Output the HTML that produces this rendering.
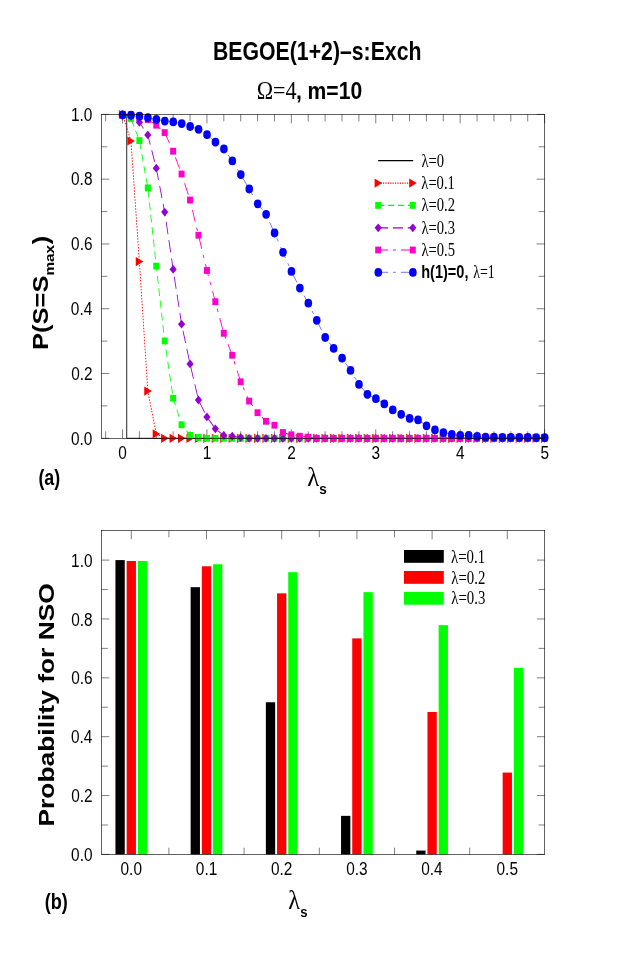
<!DOCTYPE html>
<html><head><meta charset="utf-8"><title>BEGOE(1+2)-s:Exch</title>
<style>
html,body{margin:0;padding:0;background:#fff;}
body{width:623px;height:969px;overflow:hidden;font-family:"Liberation Sans",sans-serif;}
svg{display:block;will-change:transform;}
</style></head><body>
<svg width="623" height="969" viewBox="0 0 623 969">
<rect width="623" height="969" fill="#fff"/>
<g id="a-ticks">
<line x1="105.62" y1="438.30" x2="105.62" y2="431.30" stroke="#000" stroke-width="0.5"/>
<line x1="105.62" y1="114.40" x2="105.62" y2="121.40" stroke="#000" stroke-width="0.5"/>
<line x1="122.50" y1="438.30" x2="122.50" y2="429.30" stroke="#000" stroke-width="0.5"/>
<line x1="122.50" y1="114.40" x2="122.50" y2="123.40" stroke="#000" stroke-width="0.5"/>
<line x1="139.38" y1="438.30" x2="139.38" y2="431.30" stroke="#000" stroke-width="0.5"/>
<line x1="139.38" y1="114.40" x2="139.38" y2="121.40" stroke="#000" stroke-width="0.5"/>
<line x1="156.27" y1="438.30" x2="156.27" y2="431.30" stroke="#000" stroke-width="0.5"/>
<line x1="156.27" y1="114.40" x2="156.27" y2="121.40" stroke="#000" stroke-width="0.5"/>
<line x1="173.15" y1="438.30" x2="173.15" y2="431.30" stroke="#000" stroke-width="0.5"/>
<line x1="173.15" y1="114.40" x2="173.15" y2="121.40" stroke="#000" stroke-width="0.5"/>
<line x1="190.04" y1="438.30" x2="190.04" y2="431.30" stroke="#000" stroke-width="0.5"/>
<line x1="190.04" y1="114.40" x2="190.04" y2="121.40" stroke="#000" stroke-width="0.5"/>
<line x1="206.92" y1="438.30" x2="206.92" y2="429.30" stroke="#000" stroke-width="0.5"/>
<line x1="206.92" y1="114.40" x2="206.92" y2="123.40" stroke="#000" stroke-width="0.5"/>
<line x1="223.80" y1="438.30" x2="223.80" y2="431.30" stroke="#000" stroke-width="0.5"/>
<line x1="223.80" y1="114.40" x2="223.80" y2="121.40" stroke="#000" stroke-width="0.5"/>
<line x1="240.69" y1="438.30" x2="240.69" y2="431.30" stroke="#000" stroke-width="0.5"/>
<line x1="240.69" y1="114.40" x2="240.69" y2="121.40" stroke="#000" stroke-width="0.5"/>
<line x1="257.57" y1="438.30" x2="257.57" y2="431.30" stroke="#000" stroke-width="0.5"/>
<line x1="257.57" y1="114.40" x2="257.57" y2="121.40" stroke="#000" stroke-width="0.5"/>
<line x1="274.46" y1="438.30" x2="274.46" y2="431.30" stroke="#000" stroke-width="0.5"/>
<line x1="274.46" y1="114.40" x2="274.46" y2="121.40" stroke="#000" stroke-width="0.5"/>
<line x1="291.34" y1="438.30" x2="291.34" y2="429.30" stroke="#000" stroke-width="0.5"/>
<line x1="291.34" y1="114.40" x2="291.34" y2="123.40" stroke="#000" stroke-width="0.5"/>
<line x1="308.22" y1="438.30" x2="308.22" y2="431.30" stroke="#000" stroke-width="0.5"/>
<line x1="308.22" y1="114.40" x2="308.22" y2="121.40" stroke="#000" stroke-width="0.5"/>
<line x1="325.11" y1="438.30" x2="325.11" y2="431.30" stroke="#000" stroke-width="0.5"/>
<line x1="325.11" y1="114.40" x2="325.11" y2="121.40" stroke="#000" stroke-width="0.5"/>
<line x1="341.99" y1="438.30" x2="341.99" y2="431.30" stroke="#000" stroke-width="0.5"/>
<line x1="341.99" y1="114.40" x2="341.99" y2="121.40" stroke="#000" stroke-width="0.5"/>
<line x1="358.88" y1="438.30" x2="358.88" y2="431.30" stroke="#000" stroke-width="0.5"/>
<line x1="358.88" y1="114.40" x2="358.88" y2="121.40" stroke="#000" stroke-width="0.5"/>
<line x1="375.76" y1="438.30" x2="375.76" y2="429.30" stroke="#000" stroke-width="0.5"/>
<line x1="375.76" y1="114.40" x2="375.76" y2="123.40" stroke="#000" stroke-width="0.5"/>
<line x1="392.64" y1="438.30" x2="392.64" y2="431.30" stroke="#000" stroke-width="0.5"/>
<line x1="392.64" y1="114.40" x2="392.64" y2="121.40" stroke="#000" stroke-width="0.5"/>
<line x1="409.53" y1="438.30" x2="409.53" y2="431.30" stroke="#000" stroke-width="0.5"/>
<line x1="409.53" y1="114.40" x2="409.53" y2="121.40" stroke="#000" stroke-width="0.5"/>
<line x1="426.41" y1="438.30" x2="426.41" y2="431.30" stroke="#000" stroke-width="0.5"/>
<line x1="426.41" y1="114.40" x2="426.41" y2="121.40" stroke="#000" stroke-width="0.5"/>
<line x1="443.30" y1="438.30" x2="443.30" y2="431.30" stroke="#000" stroke-width="0.5"/>
<line x1="443.30" y1="114.40" x2="443.30" y2="121.40" stroke="#000" stroke-width="0.5"/>
<line x1="460.18" y1="438.30" x2="460.18" y2="429.30" stroke="#000" stroke-width="0.5"/>
<line x1="460.18" y1="114.40" x2="460.18" y2="123.40" stroke="#000" stroke-width="0.5"/>
<line x1="477.06" y1="438.30" x2="477.06" y2="431.30" stroke="#000" stroke-width="0.5"/>
<line x1="477.06" y1="114.40" x2="477.06" y2="121.40" stroke="#000" stroke-width="0.5"/>
<line x1="493.95" y1="438.30" x2="493.95" y2="431.30" stroke="#000" stroke-width="0.5"/>
<line x1="493.95" y1="114.40" x2="493.95" y2="121.40" stroke="#000" stroke-width="0.5"/>
<line x1="510.83" y1="438.30" x2="510.83" y2="431.30" stroke="#000" stroke-width="0.5"/>
<line x1="510.83" y1="114.40" x2="510.83" y2="121.40" stroke="#000" stroke-width="0.5"/>
<line x1="527.72" y1="438.30" x2="527.72" y2="431.30" stroke="#000" stroke-width="0.5"/>
<line x1="527.72" y1="114.40" x2="527.72" y2="121.40" stroke="#000" stroke-width="0.5"/>
<line x1="544.60" y1="438.30" x2="544.60" y2="429.30" stroke="#000" stroke-width="0.5"/>
<line x1="544.60" y1="114.40" x2="544.60" y2="123.40" stroke="#000" stroke-width="0.5"/>
<line x1="101.30" y1="438.30" x2="109.30" y2="438.30" stroke="#000" stroke-width="0.5"/>
<line x1="544.60" y1="438.30" x2="536.60" y2="438.30" stroke="#000" stroke-width="0.5"/>
<line x1="101.30" y1="405.91" x2="107.30" y2="405.91" stroke="#000" stroke-width="0.5"/>
<line x1="544.60" y1="405.91" x2="538.60" y2="405.91" stroke="#000" stroke-width="0.5"/>
<line x1="101.30" y1="373.52" x2="109.30" y2="373.52" stroke="#000" stroke-width="0.5"/>
<line x1="544.60" y1="373.52" x2="536.60" y2="373.52" stroke="#000" stroke-width="0.5"/>
<line x1="101.30" y1="341.13" x2="107.30" y2="341.13" stroke="#000" stroke-width="0.5"/>
<line x1="544.60" y1="341.13" x2="538.60" y2="341.13" stroke="#000" stroke-width="0.5"/>
<line x1="101.30" y1="308.74" x2="109.30" y2="308.74" stroke="#000" stroke-width="0.5"/>
<line x1="544.60" y1="308.74" x2="536.60" y2="308.74" stroke="#000" stroke-width="0.5"/>
<line x1="101.30" y1="276.35" x2="107.30" y2="276.35" stroke="#000" stroke-width="0.5"/>
<line x1="544.60" y1="276.35" x2="538.60" y2="276.35" stroke="#000" stroke-width="0.5"/>
<line x1="101.30" y1="243.96" x2="109.30" y2="243.96" stroke="#000" stroke-width="0.5"/>
<line x1="544.60" y1="243.96" x2="536.60" y2="243.96" stroke="#000" stroke-width="0.5"/>
<line x1="101.30" y1="211.57" x2="107.30" y2="211.57" stroke="#000" stroke-width="0.5"/>
<line x1="544.60" y1="211.57" x2="538.60" y2="211.57" stroke="#000" stroke-width="0.5"/>
<line x1="101.30" y1="179.18" x2="109.30" y2="179.18" stroke="#000" stroke-width="0.5"/>
<line x1="544.60" y1="179.18" x2="536.60" y2="179.18" stroke="#000" stroke-width="0.5"/>
<line x1="101.30" y1="146.79" x2="107.30" y2="146.79" stroke="#000" stroke-width="0.5"/>
<line x1="544.60" y1="146.79" x2="538.60" y2="146.79" stroke="#000" stroke-width="0.5"/>
<line x1="101.30" y1="114.40" x2="109.30" y2="114.40" stroke="#000" stroke-width="0.5"/>
<line x1="544.60" y1="114.40" x2="536.60" y2="114.40" stroke="#000" stroke-width="0.5"/>
</g>
<g id="a-data">
<polyline transform="scale(0.8,1)" points="153.12,114.40 158.40,114.40 158.40,438.30 680.75,438.30" fill="none" stroke="#000" stroke-width="0.95"/>
<polyline transform="scale(0.8,1)" points="153.12,114.50 163.68,141.00 174.23,261.60 184.78,391.10 195.33,433.90 205.89,438.30 216.44,438.30 226.99,438.30 237.54,438.30 248.10,438.30 258.65,438.30 269.20,438.30 279.75,438.30 290.31,438.30 300.86,438.30 311.41,438.30 321.96,438.30 332.52,438.30 343.07,438.30 353.62,438.30 364.18,438.30 374.73,438.30 385.28,438.30 395.83,438.30 406.39,438.30 416.94,438.30 427.49,438.30 438.04,438.30 448.60,438.30 459.15,438.30 469.70,438.30 480.25,438.30 490.81,438.30 501.36,438.30 511.91,438.30 522.46,438.30 533.01,438.30 543.57,438.30 554.12,438.30 564.67,438.30 575.23,438.30 585.78,438.30 596.33,438.30 606.88,438.30 617.44,438.30 627.99,438.30 638.54,438.30 649.09,438.30 659.65,438.30 670.20,438.30 680.75,438.30" fill="none" stroke="#ff0000" stroke-width="1.1" stroke-dasharray="1.50 1.50"/>
<path d="M118.90,109.90 L126.50,114.50 L118.90,119.10 Z" fill="#ff0000"/>
<path d="M127.34,136.40 L134.94,141.00 L127.34,145.60 Z" fill="#ff0000"/>
<path d="M135.78,257.00 L143.38,261.60 L135.78,266.20 Z" fill="#ff0000"/>
<path d="M144.23,386.50 L151.83,391.10 L144.23,395.70 Z" fill="#ff0000"/>
<path d="M152.67,429.30 L160.27,433.90 L152.67,438.50 Z" fill="#ff0000"/>
<path d="M161.11,433.70 L168.71,438.30 L161.11,442.90 Z" fill="#ff0000"/>
<path d="M169.55,433.70 L177.15,438.30 L169.55,442.90 Z" fill="#ff0000"/>
<path d="M177.99,433.70 L185.59,438.30 L177.99,442.90 Z" fill="#ff0000"/>
<path d="M186.44,433.70 L194.04,438.30 L186.44,442.90 Z" fill="#ff0000"/>
<path d="M194.88,433.70 L202.48,438.30 L194.88,442.90 Z" fill="#ff0000"/>
<path d="M203.32,433.70 L210.92,438.30 L203.32,442.90 Z" fill="#ff0000"/>
<path d="M211.76,433.70 L219.36,438.30 L211.76,442.90 Z" fill="#ff0000"/>
<path d="M220.20,433.70 L227.80,438.30 L220.20,442.90 Z" fill="#ff0000"/>
<path d="M228.65,433.70 L236.25,438.30 L228.65,442.90 Z" fill="#ff0000"/>
<path d="M237.09,433.70 L244.69,438.30 L237.09,442.90 Z" fill="#ff0000"/>
<path d="M245.53,433.70 L253.13,438.30 L245.53,442.90 Z" fill="#ff0000"/>
<path d="M253.97,433.70 L261.57,438.30 L253.97,442.90 Z" fill="#ff0000"/>
<path d="M262.41,433.70 L270.01,438.30 L262.41,442.90 Z" fill="#ff0000"/>
<path d="M270.86,433.70 L278.46,438.30 L270.86,442.90 Z" fill="#ff0000"/>
<path d="M279.30,433.70 L286.90,438.30 L279.30,442.90 Z" fill="#ff0000"/>
<path d="M287.74,433.70 L295.34,438.30 L287.74,442.90 Z" fill="#ff0000"/>
<path d="M296.18,433.70 L303.78,438.30 L296.18,442.90 Z" fill="#ff0000"/>
<path d="M304.62,433.70 L312.22,438.30 L304.62,442.90 Z" fill="#ff0000"/>
<path d="M313.07,433.70 L320.67,438.30 L313.07,442.90 Z" fill="#ff0000"/>
<path d="M321.51,433.70 L329.11,438.30 L321.51,442.90 Z" fill="#ff0000"/>
<path d="M329.95,433.70 L337.55,438.30 L329.95,442.90 Z" fill="#ff0000"/>
<path d="M338.39,433.70 L345.99,438.30 L338.39,442.90 Z" fill="#ff0000"/>
<path d="M346.83,433.70 L354.43,438.30 L346.83,442.90 Z" fill="#ff0000"/>
<path d="M355.28,433.70 L362.88,438.30 L355.28,442.90 Z" fill="#ff0000"/>
<path d="M363.72,433.70 L371.32,438.30 L363.72,442.90 Z" fill="#ff0000"/>
<path d="M372.16,433.70 L379.76,438.30 L372.16,442.90 Z" fill="#ff0000"/>
<path d="M380.60,433.70 L388.20,438.30 L380.60,442.90 Z" fill="#ff0000"/>
<path d="M389.04,433.70 L396.64,438.30 L389.04,442.90 Z" fill="#ff0000"/>
<path d="M397.49,433.70 L405.09,438.30 L397.49,442.90 Z" fill="#ff0000"/>
<path d="M405.93,433.70 L413.53,438.30 L405.93,442.90 Z" fill="#ff0000"/>
<path d="M414.37,433.70 L421.97,438.30 L414.37,442.90 Z" fill="#ff0000"/>
<path d="M422.81,433.70 L430.41,438.30 L422.81,442.90 Z" fill="#ff0000"/>
<path d="M431.25,433.70 L438.85,438.30 L431.25,442.90 Z" fill="#ff0000"/>
<path d="M439.70,433.70 L447.30,438.30 L439.70,442.90 Z" fill="#ff0000"/>
<path d="M448.14,433.70 L455.74,438.30 L448.14,442.90 Z" fill="#ff0000"/>
<path d="M456.58,433.70 L464.18,438.30 L456.58,442.90 Z" fill="#ff0000"/>
<path d="M465.02,433.70 L472.62,438.30 L465.02,442.90 Z" fill="#ff0000"/>
<path d="M473.46,433.70 L481.06,438.30 L473.46,442.90 Z" fill="#ff0000"/>
<path d="M481.91,433.70 L489.51,438.30 L481.91,442.90 Z" fill="#ff0000"/>
<path d="M490.35,433.70 L497.95,438.30 L490.35,442.90 Z" fill="#ff0000"/>
<path d="M498.79,433.70 L506.39,438.30 L498.79,442.90 Z" fill="#ff0000"/>
<path d="M507.23,433.70 L514.83,438.30 L507.23,442.90 Z" fill="#ff0000"/>
<path d="M515.67,433.70 L523.27,438.30 L515.67,442.90 Z" fill="#ff0000"/>
<path d="M524.12,433.70 L531.72,438.30 L524.12,442.90 Z" fill="#ff0000"/>
<path d="M532.56,433.70 L540.16,438.30 L532.56,442.90 Z" fill="#ff0000"/>
<path d="M541.00,433.70 L548.60,438.30 L541.00,442.90 Z" fill="#ff0000"/>
<polyline transform="scale(0.8,1)" points="153.12,114.50 163.68,118.50 174.23,140.60 184.78,187.90 195.33,266.10 205.89,341.00 216.44,398.20 226.99,424.80 237.54,435.40 248.10,437.50 258.65,438.30 269.20,438.30 279.75,438.30 290.31,438.30 300.86,438.30 311.41,438.30 321.96,438.30 332.52,438.30 343.07,438.30 353.62,438.30 364.18,438.30 374.73,438.30 385.28,438.30 395.83,438.30 406.39,438.30 416.94,438.30 427.49,438.30 438.04,438.30 448.60,438.30 459.15,438.30 469.70,438.30 480.25,438.30 490.81,438.30 501.36,438.30 511.91,438.30 522.46,438.30 533.01,438.30 543.57,438.30 554.12,438.30 564.67,438.30 575.23,438.30 585.78,438.30 596.33,438.30 606.88,438.30 617.44,438.30 627.99,438.30 638.54,438.30 649.09,438.30 659.65,438.30 670.20,438.30 680.75,438.30" fill="none" stroke="#00ff00" stroke-width="1.05" stroke-dasharray="7.75 4.62"/>
<rect x="119.50" y="111.10" width="6.0" height="6.8" fill="#00ff00"/>
<rect x="127.94" y="115.10" width="6.0" height="6.8" fill="#00ff00"/>
<rect x="136.38" y="137.20" width="6.0" height="6.8" fill="#00ff00"/>
<rect x="144.83" y="184.50" width="6.0" height="6.8" fill="#00ff00"/>
<rect x="153.27" y="262.70" width="6.0" height="6.8" fill="#00ff00"/>
<rect x="161.71" y="337.60" width="6.0" height="6.8" fill="#00ff00"/>
<rect x="170.15" y="394.80" width="6.0" height="6.8" fill="#00ff00"/>
<rect x="178.59" y="421.40" width="6.0" height="6.8" fill="#00ff00"/>
<rect x="187.04" y="432.00" width="6.0" height="6.8" fill="#00ff00"/>
<rect x="195.48" y="434.10" width="6.0" height="6.8" fill="#00ff00"/>
<rect x="203.92" y="434.90" width="6.0" height="6.8" fill="#00ff00"/>
<rect x="212.36" y="434.90" width="6.0" height="6.8" fill="#00ff00"/>
<rect x="220.80" y="434.90" width="6.0" height="6.8" fill="#00ff00"/>
<rect x="229.25" y="434.90" width="6.0" height="6.8" fill="#00ff00"/>
<rect x="237.69" y="434.90" width="6.0" height="6.8" fill="#00ff00"/>
<rect x="246.13" y="434.90" width="6.0" height="6.8" fill="#00ff00"/>
<rect x="254.57" y="434.90" width="6.0" height="6.8" fill="#00ff00"/>
<rect x="263.01" y="434.90" width="6.0" height="6.8" fill="#00ff00"/>
<rect x="271.46" y="434.90" width="6.0" height="6.8" fill="#00ff00"/>
<rect x="279.90" y="434.90" width="6.0" height="6.8" fill="#00ff00"/>
<rect x="288.34" y="434.90" width="6.0" height="6.8" fill="#00ff00"/>
<rect x="296.78" y="434.90" width="6.0" height="6.8" fill="#00ff00"/>
<rect x="305.22" y="434.90" width="6.0" height="6.8" fill="#00ff00"/>
<rect x="313.67" y="434.90" width="6.0" height="6.8" fill="#00ff00"/>
<rect x="322.11" y="434.90" width="6.0" height="6.8" fill="#00ff00"/>
<rect x="330.55" y="434.90" width="6.0" height="6.8" fill="#00ff00"/>
<rect x="338.99" y="434.90" width="6.0" height="6.8" fill="#00ff00"/>
<rect x="347.43" y="434.90" width="6.0" height="6.8" fill="#00ff00"/>
<rect x="355.88" y="434.90" width="6.0" height="6.8" fill="#00ff00"/>
<rect x="364.32" y="434.90" width="6.0" height="6.8" fill="#00ff00"/>
<rect x="372.76" y="434.90" width="6.0" height="6.8" fill="#00ff00"/>
<rect x="381.20" y="434.90" width="6.0" height="6.8" fill="#00ff00"/>
<rect x="389.64" y="434.90" width="6.0" height="6.8" fill="#00ff00"/>
<rect x="398.09" y="434.90" width="6.0" height="6.8" fill="#00ff00"/>
<rect x="406.53" y="434.90" width="6.0" height="6.8" fill="#00ff00"/>
<rect x="414.97" y="434.90" width="6.0" height="6.8" fill="#00ff00"/>
<rect x="423.41" y="434.90" width="6.0" height="6.8" fill="#00ff00"/>
<rect x="431.85" y="434.90" width="6.0" height="6.8" fill="#00ff00"/>
<rect x="440.30" y="434.90" width="6.0" height="6.8" fill="#00ff00"/>
<rect x="448.74" y="434.90" width="6.0" height="6.8" fill="#00ff00"/>
<rect x="457.18" y="434.90" width="6.0" height="6.8" fill="#00ff00"/>
<rect x="465.62" y="434.90" width="6.0" height="6.8" fill="#00ff00"/>
<rect x="474.06" y="434.90" width="6.0" height="6.8" fill="#00ff00"/>
<rect x="482.51" y="434.90" width="6.0" height="6.8" fill="#00ff00"/>
<rect x="490.95" y="434.90" width="6.0" height="6.8" fill="#00ff00"/>
<rect x="499.39" y="434.90" width="6.0" height="6.8" fill="#00ff00"/>
<rect x="507.83" y="434.90" width="6.0" height="6.8" fill="#00ff00"/>
<rect x="516.27" y="434.90" width="6.0" height="6.8" fill="#00ff00"/>
<rect x="524.72" y="434.90" width="6.0" height="6.8" fill="#00ff00"/>
<rect x="533.16" y="434.90" width="6.0" height="6.8" fill="#00ff00"/>
<rect x="541.60" y="434.90" width="6.0" height="6.8" fill="#00ff00"/>
<polyline transform="scale(0.8,1)" points="153.12,114.50 163.68,116.00 174.23,122.30 184.78,134.90 195.33,168.20 205.89,212.10 216.44,269.30 226.99,324.20 237.54,363.90 248.10,400.00 258.65,416.90 269.20,428.80 279.75,435.40 290.31,436.20 300.86,437.50 311.41,438.30 321.96,438.30 332.52,438.30 343.07,438.30 353.62,438.30 364.18,438.30 374.73,438.30 385.28,438.30 395.83,438.30 406.39,438.30 416.94,438.30 427.49,438.30 438.04,438.30 448.60,438.30 459.15,438.30 469.70,438.30 480.25,438.30 490.81,438.30 501.36,438.30 511.91,438.30 522.46,438.30 533.01,438.30 543.57,438.30 554.12,438.30 564.67,438.30 575.23,438.30 585.78,438.30 596.33,438.30 606.88,438.30 617.44,438.30 627.99,438.30 638.54,438.30 649.09,438.30 659.65,438.30 670.20,438.30 680.75,438.30" fill="none" stroke="#9400d3" stroke-width="1.05" stroke-dasharray="12.50 6.00"/>
<path d="M122.50,110.10 L126.10,114.50 L122.50,118.90 L118.90,114.50 Z" fill="#9400d3"/>
<path d="M130.94,111.60 L134.54,116.00 L130.94,120.40 L127.34,116.00 Z" fill="#9400d3"/>
<path d="M139.38,117.90 L142.98,122.30 L139.38,126.70 L135.78,122.30 Z" fill="#9400d3"/>
<path d="M147.83,130.50 L151.43,134.90 L147.83,139.30 L144.23,134.90 Z" fill="#9400d3"/>
<path d="M156.27,163.80 L159.87,168.20 L156.27,172.60 L152.67,168.20 Z" fill="#9400d3"/>
<path d="M164.71,207.70 L168.31,212.10 L164.71,216.50 L161.11,212.10 Z" fill="#9400d3"/>
<path d="M173.15,264.90 L176.75,269.30 L173.15,273.70 L169.55,269.30 Z" fill="#9400d3"/>
<path d="M181.59,319.80 L185.19,324.20 L181.59,328.60 L177.99,324.20 Z" fill="#9400d3"/>
<path d="M190.04,359.50 L193.64,363.90 L190.04,368.30 L186.44,363.90 Z" fill="#9400d3"/>
<path d="M198.48,395.60 L202.08,400.00 L198.48,404.40 L194.88,400.00 Z" fill="#9400d3"/>
<path d="M206.92,412.50 L210.52,416.90 L206.92,421.30 L203.32,416.90 Z" fill="#9400d3"/>
<path d="M215.36,424.40 L218.96,428.80 L215.36,433.20 L211.76,428.80 Z" fill="#9400d3"/>
<path d="M223.80,431.00 L227.40,435.40 L223.80,439.80 L220.20,435.40 Z" fill="#9400d3"/>
<path d="M232.25,431.80 L235.85,436.20 L232.25,440.60 L228.65,436.20 Z" fill="#9400d3"/>
<path d="M240.69,433.10 L244.29,437.50 L240.69,441.90 L237.09,437.50 Z" fill="#9400d3"/>
<path d="M249.13,433.90 L252.73,438.30 L249.13,442.70 L245.53,438.30 Z" fill="#9400d3"/>
<path d="M257.57,433.90 L261.17,438.30 L257.57,442.70 L253.97,438.30 Z" fill="#9400d3"/>
<path d="M266.01,433.90 L269.61,438.30 L266.01,442.70 L262.41,438.30 Z" fill="#9400d3"/>
<path d="M274.46,433.90 L278.06,438.30 L274.46,442.70 L270.86,438.30 Z" fill="#9400d3"/>
<path d="M282.90,433.90 L286.50,438.30 L282.90,442.70 L279.30,438.30 Z" fill="#9400d3"/>
<path d="M291.34,433.90 L294.94,438.30 L291.34,442.70 L287.74,438.30 Z" fill="#9400d3"/>
<path d="M299.78,433.90 L303.38,438.30 L299.78,442.70 L296.18,438.30 Z" fill="#9400d3"/>
<path d="M308.22,433.90 L311.82,438.30 L308.22,442.70 L304.62,438.30 Z" fill="#9400d3"/>
<path d="M316.67,433.90 L320.27,438.30 L316.67,442.70 L313.07,438.30 Z" fill="#9400d3"/>
<path d="M325.11,433.90 L328.71,438.30 L325.11,442.70 L321.51,438.30 Z" fill="#9400d3"/>
<path d="M333.55,433.90 L337.15,438.30 L333.55,442.70 L329.95,438.30 Z" fill="#9400d3"/>
<path d="M341.99,433.90 L345.59,438.30 L341.99,442.70 L338.39,438.30 Z" fill="#9400d3"/>
<path d="M350.43,433.90 L354.03,438.30 L350.43,442.70 L346.83,438.30 Z" fill="#9400d3"/>
<path d="M358.88,433.90 L362.48,438.30 L358.88,442.70 L355.28,438.30 Z" fill="#9400d3"/>
<path d="M367.32,433.90 L370.92,438.30 L367.32,442.70 L363.72,438.30 Z" fill="#9400d3"/>
<path d="M375.76,433.90 L379.36,438.30 L375.76,442.70 L372.16,438.30 Z" fill="#9400d3"/>
<path d="M384.20,433.90 L387.80,438.30 L384.20,442.70 L380.60,438.30 Z" fill="#9400d3"/>
<path d="M392.64,433.90 L396.24,438.30 L392.64,442.70 L389.04,438.30 Z" fill="#9400d3"/>
<path d="M401.09,433.90 L404.69,438.30 L401.09,442.70 L397.49,438.30 Z" fill="#9400d3"/>
<path d="M409.53,433.90 L413.13,438.30 L409.53,442.70 L405.93,438.30 Z" fill="#9400d3"/>
<path d="M417.97,433.90 L421.57,438.30 L417.97,442.70 L414.37,438.30 Z" fill="#9400d3"/>
<path d="M426.41,433.90 L430.01,438.30 L426.41,442.70 L422.81,438.30 Z" fill="#9400d3"/>
<path d="M434.85,433.90 L438.45,438.30 L434.85,442.70 L431.25,438.30 Z" fill="#9400d3"/>
<path d="M443.30,433.90 L446.90,438.30 L443.30,442.70 L439.70,438.30 Z" fill="#9400d3"/>
<path d="M451.74,433.90 L455.34,438.30 L451.74,442.70 L448.14,438.30 Z" fill="#9400d3"/>
<path d="M460.18,433.90 L463.78,438.30 L460.18,442.70 L456.58,438.30 Z" fill="#9400d3"/>
<path d="M468.62,433.90 L472.22,438.30 L468.62,442.70 L465.02,438.30 Z" fill="#9400d3"/>
<path d="M477.06,433.90 L480.66,438.30 L477.06,442.70 L473.46,438.30 Z" fill="#9400d3"/>
<path d="M485.51,433.90 L489.11,438.30 L485.51,442.70 L481.91,438.30 Z" fill="#9400d3"/>
<path d="M493.95,433.90 L497.55,438.30 L493.95,442.70 L490.35,438.30 Z" fill="#9400d3"/>
<path d="M502.39,433.90 L505.99,438.30 L502.39,442.70 L498.79,438.30 Z" fill="#9400d3"/>
<path d="M510.83,433.90 L514.43,438.30 L510.83,442.70 L507.23,438.30 Z" fill="#9400d3"/>
<path d="M519.27,433.90 L522.87,438.30 L519.27,442.70 L515.67,438.30 Z" fill="#9400d3"/>
<path d="M527.72,433.90 L531.32,438.30 L527.72,442.70 L524.12,438.30 Z" fill="#9400d3"/>
<path d="M536.16,433.90 L539.76,438.30 L536.16,442.70 L532.56,438.30 Z" fill="#9400d3"/>
<path d="M544.60,433.90 L548.20,438.30 L544.60,442.70 L541.00,438.30 Z" fill="#9400d3"/>
<polyline transform="scale(0.8,1)" points="153.12,114.50 163.68,115.00 174.23,116.60 184.78,119.60 195.33,125.20 205.89,132.60 216.44,151.20 226.99,174.00 237.54,200.00 248.10,235.20 258.65,270.50 269.20,301.70 279.75,333.30 290.31,355.30 300.86,381.80 311.41,401.10 321.96,412.70 332.52,421.30 343.07,425.20 353.62,432.50 364.18,434.80 374.73,436.20 385.28,437.10 395.83,438.30 406.39,438.30 416.94,438.30 427.49,438.30 438.04,438.30 448.60,438.30 459.15,438.30 469.70,438.30 480.25,438.30 490.81,438.30 501.36,438.30 511.91,438.30 522.46,438.30 533.01,438.30 543.57,438.30 554.12,438.30 564.67,438.30 575.23,438.30 585.78,438.30 596.33,438.30 606.88,438.30 617.44,438.30 627.99,438.30 638.54,438.30 649.09,438.30 659.65,438.30 670.20,438.30 680.75,438.30" fill="none" stroke="#ff00cc" stroke-width="1.05" stroke-dasharray="12.50 6.00 3.50 6.37"/>
<rect x="119.50" y="111.10" width="6.0" height="6.8" fill="#ff00cc"/>
<rect x="127.94" y="111.60" width="6.0" height="6.8" fill="#ff00cc"/>
<rect x="136.38" y="113.20" width="6.0" height="6.8" fill="#ff00cc"/>
<rect x="144.83" y="116.20" width="6.0" height="6.8" fill="#ff00cc"/>
<rect x="153.27" y="121.80" width="6.0" height="6.8" fill="#ff00cc"/>
<rect x="161.71" y="129.20" width="6.0" height="6.8" fill="#ff00cc"/>
<rect x="170.15" y="147.80" width="6.0" height="6.8" fill="#ff00cc"/>
<rect x="178.59" y="170.60" width="6.0" height="6.8" fill="#ff00cc"/>
<rect x="187.04" y="196.60" width="6.0" height="6.8" fill="#ff00cc"/>
<rect x="195.48" y="231.80" width="6.0" height="6.8" fill="#ff00cc"/>
<rect x="203.92" y="267.10" width="6.0" height="6.8" fill="#ff00cc"/>
<rect x="212.36" y="298.30" width="6.0" height="6.8" fill="#ff00cc"/>
<rect x="220.80" y="329.90" width="6.0" height="6.8" fill="#ff00cc"/>
<rect x="229.25" y="351.90" width="6.0" height="6.8" fill="#ff00cc"/>
<rect x="237.69" y="378.40" width="6.0" height="6.8" fill="#ff00cc"/>
<rect x="246.13" y="397.70" width="6.0" height="6.8" fill="#ff00cc"/>
<rect x="254.57" y="409.30" width="6.0" height="6.8" fill="#ff00cc"/>
<rect x="263.01" y="417.90" width="6.0" height="6.8" fill="#ff00cc"/>
<rect x="271.46" y="421.80" width="6.0" height="6.8" fill="#ff00cc"/>
<rect x="279.90" y="429.10" width="6.0" height="6.8" fill="#ff00cc"/>
<rect x="288.34" y="431.40" width="6.0" height="6.8" fill="#ff00cc"/>
<rect x="296.78" y="432.80" width="6.0" height="6.8" fill="#ff00cc"/>
<rect x="305.22" y="433.70" width="6.0" height="6.8" fill="#ff00cc"/>
<rect x="313.67" y="434.90" width="6.0" height="6.8" fill="#ff00cc"/>
<rect x="322.11" y="434.90" width="6.0" height="6.8" fill="#ff00cc"/>
<rect x="330.55" y="434.90" width="6.0" height="6.8" fill="#ff00cc"/>
<rect x="338.99" y="434.90" width="6.0" height="6.8" fill="#ff00cc"/>
<rect x="347.43" y="434.90" width="6.0" height="6.8" fill="#ff00cc"/>
<rect x="355.88" y="434.90" width="6.0" height="6.8" fill="#ff00cc"/>
<rect x="364.32" y="434.90" width="6.0" height="6.8" fill="#ff00cc"/>
<rect x="372.76" y="434.90" width="6.0" height="6.8" fill="#ff00cc"/>
<rect x="381.20" y="434.90" width="6.0" height="6.8" fill="#ff00cc"/>
<rect x="389.64" y="434.90" width="6.0" height="6.8" fill="#ff00cc"/>
<rect x="398.09" y="434.90" width="6.0" height="6.8" fill="#ff00cc"/>
<rect x="406.53" y="434.90" width="6.0" height="6.8" fill="#ff00cc"/>
<rect x="414.97" y="434.90" width="6.0" height="6.8" fill="#ff00cc"/>
<rect x="423.41" y="434.90" width="6.0" height="6.8" fill="#ff00cc"/>
<rect x="431.85" y="434.90" width="6.0" height="6.8" fill="#ff00cc"/>
<rect x="440.30" y="434.90" width="6.0" height="6.8" fill="#ff00cc"/>
<rect x="448.74" y="434.90" width="6.0" height="6.8" fill="#ff00cc"/>
<rect x="457.18" y="434.90" width="6.0" height="6.8" fill="#ff00cc"/>
<rect x="465.62" y="434.90" width="6.0" height="6.8" fill="#ff00cc"/>
<rect x="474.06" y="434.90" width="6.0" height="6.8" fill="#ff00cc"/>
<rect x="482.51" y="434.90" width="6.0" height="6.8" fill="#ff00cc"/>
<rect x="490.95" y="434.90" width="6.0" height="6.8" fill="#ff00cc"/>
<rect x="499.39" y="434.90" width="6.0" height="6.8" fill="#ff00cc"/>
<rect x="507.83" y="434.90" width="6.0" height="6.8" fill="#ff00cc"/>
<rect x="516.27" y="434.90" width="6.0" height="6.8" fill="#ff00cc"/>
<rect x="524.72" y="434.90" width="6.0" height="6.8" fill="#ff00cc"/>
<rect x="533.16" y="434.90" width="6.0" height="6.8" fill="#ff00cc"/>
<rect x="541.60" y="434.90" width="6.0" height="6.8" fill="#ff00cc"/>
<polyline transform="scale(0.8,1)" points="153.12,114.90 163.68,115.10 174.23,116.00 184.78,117.60 195.33,119.40 205.89,121.00 216.44,121.80 226.99,123.50 237.54,126.40 248.10,129.20 258.65,134.60 269.20,142.00 279.75,148.90 290.31,160.80 300.86,174.50 311.41,188.90 321.96,203.70 332.52,214.20 343.07,232.90 353.62,252.20 364.18,271.30 374.73,288.00 385.28,303.10 395.83,320.20 406.39,337.40 416.94,348.30 427.49,358.10 438.04,370.30 448.60,384.30 459.15,394.20 469.70,398.60 480.25,403.80 490.81,409.80 501.36,414.20 511.91,418.30 522.46,419.80 533.01,425.70 543.57,429.80 554.12,432.50 564.67,434.40 575.23,435.20 585.78,435.40 596.33,436.40 606.88,437.10 617.44,437.10 627.99,437.30 638.54,437.30 649.09,437.30 659.65,437.30 670.20,437.50 680.75,437.50" fill="none" stroke="#0000ff" stroke-width="0.6" stroke-dasharray="12.50 6.00 3.50 6.37"/>
<ellipse cx="122.60" cy="115.00" rx="3.8" ry="4.4" fill="#0000ff"/>
<ellipse cx="131.04" cy="115.20" rx="3.8" ry="4.4" fill="#0000ff"/>
<ellipse cx="139.48" cy="116.10" rx="3.8" ry="4.4" fill="#0000ff"/>
<ellipse cx="147.93" cy="117.70" rx="3.8" ry="4.4" fill="#0000ff"/>
<ellipse cx="156.37" cy="119.50" rx="3.8" ry="4.4" fill="#0000ff"/>
<ellipse cx="164.81" cy="121.10" rx="3.8" ry="4.4" fill="#0000ff"/>
<ellipse cx="173.25" cy="121.90" rx="3.8" ry="4.4" fill="#0000ff"/>
<ellipse cx="181.69" cy="123.60" rx="3.8" ry="4.4" fill="#0000ff"/>
<ellipse cx="190.14" cy="126.50" rx="3.8" ry="4.4" fill="#0000ff"/>
<ellipse cx="198.58" cy="129.30" rx="3.8" ry="4.4" fill="#0000ff"/>
<ellipse cx="207.02" cy="134.70" rx="3.8" ry="4.4" fill="#0000ff"/>
<ellipse cx="215.46" cy="142.10" rx="3.8" ry="4.4" fill="#0000ff"/>
<ellipse cx="223.90" cy="149.00" rx="3.8" ry="4.4" fill="#0000ff"/>
<ellipse cx="232.35" cy="160.90" rx="3.8" ry="4.4" fill="#0000ff"/>
<ellipse cx="240.79" cy="174.60" rx="3.8" ry="4.4" fill="#0000ff"/>
<ellipse cx="249.23" cy="189.00" rx="3.8" ry="4.4" fill="#0000ff"/>
<ellipse cx="257.67" cy="203.80" rx="3.8" ry="4.4" fill="#0000ff"/>
<ellipse cx="266.11" cy="214.30" rx="3.8" ry="4.4" fill="#0000ff"/>
<ellipse cx="274.56" cy="233.00" rx="3.8" ry="4.4" fill="#0000ff"/>
<ellipse cx="283.00" cy="252.30" rx="3.8" ry="4.4" fill="#0000ff"/>
<ellipse cx="291.44" cy="271.40" rx="3.8" ry="4.4" fill="#0000ff"/>
<ellipse cx="299.88" cy="288.10" rx="3.8" ry="4.4" fill="#0000ff"/>
<ellipse cx="308.32" cy="303.20" rx="3.8" ry="4.4" fill="#0000ff"/>
<ellipse cx="316.77" cy="320.30" rx="3.8" ry="4.4" fill="#0000ff"/>
<ellipse cx="325.21" cy="337.50" rx="3.8" ry="4.4" fill="#0000ff"/>
<ellipse cx="333.65" cy="348.40" rx="3.8" ry="4.4" fill="#0000ff"/>
<ellipse cx="342.09" cy="358.20" rx="3.8" ry="4.4" fill="#0000ff"/>
<ellipse cx="350.53" cy="370.40" rx="3.8" ry="4.4" fill="#0000ff"/>
<ellipse cx="358.98" cy="384.40" rx="3.8" ry="4.4" fill="#0000ff"/>
<ellipse cx="367.42" cy="394.30" rx="3.8" ry="4.4" fill="#0000ff"/>
<ellipse cx="375.86" cy="398.70" rx="3.8" ry="4.4" fill="#0000ff"/>
<ellipse cx="384.30" cy="403.90" rx="3.8" ry="4.4" fill="#0000ff"/>
<ellipse cx="392.74" cy="409.90" rx="3.8" ry="4.4" fill="#0000ff"/>
<ellipse cx="401.19" cy="414.30" rx="3.8" ry="4.4" fill="#0000ff"/>
<ellipse cx="409.63" cy="418.40" rx="3.8" ry="4.4" fill="#0000ff"/>
<ellipse cx="418.07" cy="419.90" rx="3.8" ry="4.4" fill="#0000ff"/>
<ellipse cx="426.51" cy="425.80" rx="3.8" ry="4.4" fill="#0000ff"/>
<ellipse cx="434.95" cy="429.90" rx="3.8" ry="4.4" fill="#0000ff"/>
<ellipse cx="443.40" cy="432.60" rx="3.8" ry="4.4" fill="#0000ff"/>
<ellipse cx="451.84" cy="434.50" rx="3.8" ry="4.4" fill="#0000ff"/>
<ellipse cx="460.28" cy="435.30" rx="3.8" ry="4.4" fill="#0000ff"/>
<ellipse cx="468.72" cy="435.50" rx="3.8" ry="4.4" fill="#0000ff"/>
<ellipse cx="477.16" cy="436.50" rx="3.8" ry="4.4" fill="#0000ff"/>
<ellipse cx="485.61" cy="437.20" rx="3.8" ry="4.4" fill="#0000ff"/>
<ellipse cx="494.05" cy="437.20" rx="3.8" ry="4.4" fill="#0000ff"/>
<ellipse cx="502.49" cy="437.40" rx="3.8" ry="4.4" fill="#0000ff"/>
<ellipse cx="510.93" cy="437.40" rx="3.8" ry="4.4" fill="#0000ff"/>
<ellipse cx="519.37" cy="437.40" rx="3.8" ry="4.4" fill="#0000ff"/>
<ellipse cx="527.82" cy="437.40" rx="3.8" ry="4.4" fill="#0000ff"/>
<ellipse cx="536.26" cy="437.60" rx="3.8" ry="4.4" fill="#0000ff"/>
<ellipse cx="544.70" cy="437.60" rx="3.8" ry="4.4" fill="#0000ff"/>
</g>
<rect x="101.3" y="114.4" width="443.3" height="323.9" fill="none" stroke="#000" stroke-width="0.62"/>
<g id="a-labels" fill="#000">
<text x="71.00" y="444.5" font-family='"Liberation Sans", sans-serif' font-size="18.0" font-weight="normal" textLength="21.39" lengthAdjust="spacingAndGlyphs">0.0</text>
<text x="71.18" y="379.71999999999997" font-family='"Liberation Sans", sans-serif' font-size="18.0" font-weight="normal" textLength="21.39" lengthAdjust="spacingAndGlyphs">0.2</text>
<text x="70.85" y="314.94" font-family='"Liberation Sans", sans-serif' font-size="18.0" font-weight="normal" textLength="21.39" lengthAdjust="spacingAndGlyphs">0.4</text>
<text x="71.08" y="250.16" font-family='"Liberation Sans", sans-serif' font-size="18.0" font-weight="normal" textLength="21.39" lengthAdjust="spacingAndGlyphs">0.6</text>
<text x="71.07" y="185.38" font-family='"Liberation Sans", sans-serif' font-size="18.0" font-weight="normal" textLength="21.39" lengthAdjust="spacingAndGlyphs">0.8</text>
<text x="71.00" y="120.60000000000004" font-family='"Liberation Sans", sans-serif' font-size="18.0" font-weight="normal" textLength="21.39" lengthAdjust="spacingAndGlyphs">1.0</text>
<text x="118.32" y="458.9" font-family='"Liberation Sans", sans-serif' font-size="18.0" font-weight="normal" textLength="8.56" lengthAdjust="spacingAndGlyphs">0</text>
<text x="202.74" y="458.9" font-family='"Liberation Sans", sans-serif' font-size="18.0" font-weight="normal" textLength="8.56" lengthAdjust="spacingAndGlyphs">1</text>
<text x="287.16" y="458.9" font-family='"Liberation Sans", sans-serif' font-size="18.0" font-weight="normal" textLength="8.56" lengthAdjust="spacingAndGlyphs">2</text>
<text x="371.58" y="458.9" font-family='"Liberation Sans", sans-serif' font-size="18.0" font-weight="normal" textLength="8.56" lengthAdjust="spacingAndGlyphs">3</text>
<text x="456.00" y="458.9" font-family='"Liberation Sans", sans-serif' font-size="18.0" font-weight="normal" textLength="8.56" lengthAdjust="spacingAndGlyphs">4</text>
<text x="540.42" y="458.9" font-family='"Liberation Sans", sans-serif' font-size="18.0" font-weight="normal" textLength="8.56" lengthAdjust="spacingAndGlyphs">5</text>
</g>
<text x="212.99" y="60.3" font-family='"Liberation Sans", sans-serif' font-size="26.0" font-weight="bold" textLength="208.52" lengthAdjust="spacingAndGlyphs">BEGOE(1+2)&#8211;s:Exch</text>
<text x="256.66" y="98.7" font-family='"Liberation Serif", serif' font-size="25.0" font-weight="normal" textLength="39.88" lengthAdjust="spacingAndGlyphs">&#937;=4</text>
<text x="295.88" y="98.7" font-family='"Liberation Sans", sans-serif' font-size="24.5" font-weight="bold" textLength="66.28" lengthAdjust="spacingAndGlyphs">, m=10</text>
<text transform="translate(48.30,350.00) rotate(-90)" x="0" y="0" font-family='"Liberation Sans", sans-serif' font-size="21.6" font-weight="bold" textLength="74.39" lengthAdjust="spacingAndGlyphs">P(S=S</text>
<text transform="translate(54.10,275.50) rotate(-90)" x="0" y="0" font-family='"Liberation Sans", sans-serif' font-size="12.4" font-weight="bold" textLength="30.61" lengthAdjust="spacingAndGlyphs">max</text>
<text transform="translate(48.30,244.23) rotate(-90)" x="0" y="0" font-family='"Liberation Sans", sans-serif' font-size="21.6" font-weight="bold" textLength="8.49" lengthAdjust="spacingAndGlyphs">)</text>
<text x="38.42" y="485.2" font-family='"Liberation Sans", sans-serif' font-size="21.8" font-weight="bold" textLength="21.77" lengthAdjust="spacingAndGlyphs">(a)</text>
<text x="307.16" y="486.0" font-family='"Liberation Serif", serif' font-size="27.2" font-weight="normal" textLength="11.97" lengthAdjust="spacingAndGlyphs">&#955;</text>
<text x="319.23" y="493.9" font-family='"Liberation Sans", sans-serif' font-size="15.2" font-weight="bold" textLength="7.52" lengthAdjust="spacingAndGlyphs">s</text>
<g id="a-legend">
<line x1="378.2" y1="160.6" x2="413.2" y2="160.6" stroke="#000" stroke-width="1.1"/>
<polyline transform="scale(0.8,1)" points="472.75,183.10 516.00,183.10" fill="none" stroke="#ff0000" stroke-width="1.2" stroke-dasharray="1.50 1.50"/>
<path d="M374.60,178.50 L382.20,183.10 L374.60,187.70 Z" fill="#ff0000"/>
<path d="M409.20,178.50 L416.80,183.10 L409.20,187.70 Z" fill="#ff0000"/>
<polyline transform="scale(0.8,1)" points="472.75,205.40 516.00,205.40" fill="none" stroke="#00ff00" stroke-width="1.2" stroke-dasharray="7.75 4.62"/>
<rect x="375.20" y="202.00" width="6.0" height="6.8" fill="#00ff00"/>
<rect x="409.80" y="202.00" width="6.0" height="6.8" fill="#00ff00"/>
<polyline transform="scale(0.8,1)" points="472.75,227.80 516.00,227.80" fill="none" stroke="#9400d3" stroke-width="1.2" stroke-dasharray="12.50 6.00"/>
<path d="M378.20,223.40 L381.80,227.80 L378.20,232.20 L374.60,227.80 Z" fill="#9400d3"/>
<path d="M412.80,223.40 L416.40,227.80 L412.80,232.20 L409.20,227.80 Z" fill="#9400d3"/>
<polyline transform="scale(0.8,1)" points="472.75,250.00 516.00,250.00" fill="none" stroke="#ff00cc" stroke-width="1.2" stroke-dasharray="12.50 6.00 3.50 6.37"/>
<rect x="375.20" y="246.60" width="6.0" height="6.8" fill="#ff00cc"/>
<rect x="409.80" y="246.60" width="6.0" height="6.8" fill="#ff00cc"/>
<polyline transform="scale(0.8,1)" points="472.75,272.30 516.00,272.30" fill="none" stroke="#0000ff" stroke-width="0.6" stroke-dasharray="12.50 6.00 3.50 6.37"/>
<ellipse cx="378.30" cy="272.40" rx="3.8" ry="4.4" fill="#0000ff"/>
<ellipse cx="412.90" cy="272.40" rx="3.8" ry="4.4" fill="#0000ff"/>
<text x="421.32" y="189.1" font-family='"Liberation Serif", serif' font-size="18.2" font-weight="normal" textLength="33.55" lengthAdjust="spacingAndGlyphs">&#955;=0.1</text>
<text x="421.50" y="166.9" font-family='"Liberation Serif", serif' font-size="18.2" font-weight="normal" textLength="22.61" lengthAdjust="spacingAndGlyphs">&#955;=0</text>
<text x="421.50" y="211.4" font-family='"Liberation Serif", serif' font-size="18.2" font-weight="normal" textLength="33.55" lengthAdjust="spacingAndGlyphs">&#955;=0.2</text>
<text x="421.50" y="233.8" font-family='"Liberation Serif", serif' font-size="18.2" font-weight="normal" textLength="33.55" lengthAdjust="spacingAndGlyphs">&#955;=0.3</text>
<text x="421.50" y="256.0" font-family='"Liberation Serif", serif' font-size="18.2" font-weight="normal" textLength="33.55" lengthAdjust="spacingAndGlyphs">&#955;=0.5</text>
<text x="421.19" y="277.8" font-family='"Liberation Sans", sans-serif' font-size="17.8" font-weight="bold" textLength="47.29" lengthAdjust="spacingAndGlyphs">h(1)=0,</text>
<text x="473.24" y="277.8" font-family='"Liberation Serif", serif' font-size="18.2" font-weight="normal" textLength="21.39" lengthAdjust="spacingAndGlyphs">&#955;=1</text>
</g>
<g id="b-ticks">
<line x1="131.30" y1="854.40" x2="131.30" y2="845.70" stroke="#000" stroke-width="0.5"/>
<line x1="131.30" y1="530.60" x2="131.30" y2="539.30" stroke="#000" stroke-width="0.5"/>
<line x1="168.90" y1="854.40" x2="168.90" y2="847.70" stroke="#000" stroke-width="0.5"/>
<line x1="168.90" y1="530.60" x2="168.90" y2="537.30" stroke="#000" stroke-width="0.5"/>
<line x1="206.50" y1="854.40" x2="206.50" y2="845.70" stroke="#000" stroke-width="0.5"/>
<line x1="206.50" y1="530.60" x2="206.50" y2="539.30" stroke="#000" stroke-width="0.5"/>
<line x1="244.10" y1="854.40" x2="244.10" y2="847.70" stroke="#000" stroke-width="0.5"/>
<line x1="244.10" y1="530.60" x2="244.10" y2="537.30" stroke="#000" stroke-width="0.5"/>
<line x1="281.70" y1="854.40" x2="281.70" y2="845.70" stroke="#000" stroke-width="0.5"/>
<line x1="281.70" y1="530.60" x2="281.70" y2="539.30" stroke="#000" stroke-width="0.5"/>
<line x1="319.30" y1="854.40" x2="319.30" y2="847.70" stroke="#000" stroke-width="0.5"/>
<line x1="319.30" y1="530.60" x2="319.30" y2="537.30" stroke="#000" stroke-width="0.5"/>
<line x1="356.90" y1="854.40" x2="356.90" y2="845.70" stroke="#000" stroke-width="0.5"/>
<line x1="356.90" y1="530.60" x2="356.90" y2="539.30" stroke="#000" stroke-width="0.5"/>
<line x1="394.50" y1="854.40" x2="394.50" y2="847.70" stroke="#000" stroke-width="0.5"/>
<line x1="394.50" y1="530.60" x2="394.50" y2="537.30" stroke="#000" stroke-width="0.5"/>
<line x1="432.10" y1="854.40" x2="432.10" y2="845.70" stroke="#000" stroke-width="0.5"/>
<line x1="432.10" y1="530.60" x2="432.10" y2="539.30" stroke="#000" stroke-width="0.5"/>
<line x1="469.70" y1="854.40" x2="469.70" y2="847.70" stroke="#000" stroke-width="0.5"/>
<line x1="469.70" y1="530.60" x2="469.70" y2="537.30" stroke="#000" stroke-width="0.5"/>
<line x1="507.30" y1="854.40" x2="507.30" y2="845.70" stroke="#000" stroke-width="0.5"/>
<line x1="507.30" y1="530.60" x2="507.30" y2="539.30" stroke="#000" stroke-width="0.5"/>
<line x1="101.60" y1="854.40" x2="109.30" y2="854.40" stroke="#000" stroke-width="0.5"/>
<line x1="544.70" y1="854.40" x2="537.00" y2="854.40" stroke="#000" stroke-width="0.5"/>
<line x1="101.60" y1="824.97" x2="107.80" y2="824.97" stroke="#000" stroke-width="0.5"/>
<line x1="544.70" y1="824.97" x2="538.50" y2="824.97" stroke="#000" stroke-width="0.5"/>
<line x1="101.60" y1="795.54" x2="109.30" y2="795.54" stroke="#000" stroke-width="0.5"/>
<line x1="544.70" y1="795.54" x2="537.00" y2="795.54" stroke="#000" stroke-width="0.5"/>
<line x1="101.60" y1="766.11" x2="107.80" y2="766.11" stroke="#000" stroke-width="0.5"/>
<line x1="544.70" y1="766.11" x2="538.50" y2="766.11" stroke="#000" stroke-width="0.5"/>
<line x1="101.60" y1="736.68" x2="109.30" y2="736.68" stroke="#000" stroke-width="0.5"/>
<line x1="544.70" y1="736.68" x2="537.00" y2="736.68" stroke="#000" stroke-width="0.5"/>
<line x1="101.60" y1="707.25" x2="107.80" y2="707.25" stroke="#000" stroke-width="0.5"/>
<line x1="544.70" y1="707.25" x2="538.50" y2="707.25" stroke="#000" stroke-width="0.5"/>
<line x1="101.60" y1="677.82" x2="109.30" y2="677.82" stroke="#000" stroke-width="0.5"/>
<line x1="544.70" y1="677.82" x2="537.00" y2="677.82" stroke="#000" stroke-width="0.5"/>
<line x1="101.60" y1="648.39" x2="107.80" y2="648.39" stroke="#000" stroke-width="0.5"/>
<line x1="544.70" y1="648.39" x2="538.50" y2="648.39" stroke="#000" stroke-width="0.5"/>
<line x1="101.60" y1="618.96" x2="109.30" y2="618.96" stroke="#000" stroke-width="0.5"/>
<line x1="544.70" y1="618.96" x2="537.00" y2="618.96" stroke="#000" stroke-width="0.5"/>
<line x1="101.60" y1="589.53" x2="107.80" y2="589.53" stroke="#000" stroke-width="0.5"/>
<line x1="544.70" y1="589.53" x2="538.50" y2="589.53" stroke="#000" stroke-width="0.5"/>
<line x1="101.60" y1="560.10" x2="109.30" y2="560.10" stroke="#000" stroke-width="0.5"/>
<line x1="544.70" y1="560.10" x2="537.00" y2="560.10" stroke="#000" stroke-width="0.5"/>
</g>
<g id="b-bars">
<rect x="115.45" y="560.10" width="9.3" height="294.30" fill="#000"/>
<rect x="126.65" y="560.98" width="9.3" height="293.42" fill="#ff0000"/>
<rect x="137.85" y="560.98" width="9.3" height="293.42" fill="#00ff00"/>
<rect x="190.65" y="587.18" width="9.3" height="267.22" fill="#000"/>
<rect x="201.85" y="566.28" width="9.3" height="288.12" fill="#ff0000"/>
<rect x="213.05" y="564.22" width="9.3" height="290.18" fill="#00ff00"/>
<rect x="265.85" y="702.25" width="9.3" height="152.15" fill="#000"/>
<rect x="277.05" y="593.36" width="9.3" height="261.04" fill="#ff0000"/>
<rect x="288.25" y="572.17" width="9.3" height="282.23" fill="#00ff00"/>
<rect x="341.05" y="815.85" width="9.3" height="38.55" fill="#000"/>
<rect x="352.25" y="638.38" width="9.3" height="216.02" fill="#ff0000"/>
<rect x="363.45" y="592.18" width="9.3" height="262.22" fill="#00ff00"/>
<rect x="416.25" y="850.57" width="9.3" height="3.83" fill="#000"/>
<rect x="427.45" y="711.96" width="9.3" height="142.44" fill="#ff0000"/>
<rect x="438.65" y="625.14" width="9.3" height="229.26" fill="#00ff00"/>
<rect x="502.65" y="772.58" width="9.3" height="81.82" fill="#ff0000"/>
<rect x="513.85" y="667.81" width="9.3" height="186.59" fill="#00ff00"/>
</g>
<rect x="101.6" y="530.6" width="443.1" height="323.79999999999995" fill="none" stroke="#000" stroke-width="0.62"/>
<g id="b-labels" fill="#000">
<text x="71.10" y="860.6" font-family='"Liberation Sans", sans-serif' font-size="18.0" font-weight="normal" textLength="21.39" lengthAdjust="spacingAndGlyphs">0.0</text>
<text x="71.28" y="801.88" font-family='"Liberation Sans", sans-serif' font-size="18.0" font-weight="normal" textLength="21.39" lengthAdjust="spacingAndGlyphs">0.2</text>
<text x="70.95" y="743.16" font-family='"Liberation Sans", sans-serif' font-size="18.0" font-weight="normal" textLength="21.39" lengthAdjust="spacingAndGlyphs">0.4</text>
<text x="71.18" y="684.4399999999999" font-family='"Liberation Sans", sans-serif' font-size="18.0" font-weight="normal" textLength="21.39" lengthAdjust="spacingAndGlyphs">0.6</text>
<text x="71.17" y="625.7199999999999" font-family='"Liberation Sans", sans-serif' font-size="18.0" font-weight="normal" textLength="21.39" lengthAdjust="spacingAndGlyphs">0.8</text>
<text x="71.10" y="567.0" font-family='"Liberation Sans", sans-serif' font-size="18.0" font-weight="normal" textLength="21.39" lengthAdjust="spacingAndGlyphs">1.0</text>
<text x="120.55" y="875.2" font-family='"Liberation Sans", sans-serif' font-size="18.0" font-weight="normal" textLength="21.39" lengthAdjust="spacingAndGlyphs">0.0</text>
<text x="195.83" y="875.2" font-family='"Liberation Sans", sans-serif' font-size="18.0" font-weight="normal" textLength="21.39" lengthAdjust="spacingAndGlyphs">0.1</text>
<text x="271.04" y="875.2" font-family='"Liberation Sans", sans-serif' font-size="18.0" font-weight="normal" textLength="21.39" lengthAdjust="spacingAndGlyphs">0.2</text>
<text x="346.19" y="875.2" font-family='"Liberation Sans", sans-serif' font-size="18.0" font-weight="normal" textLength="21.39" lengthAdjust="spacingAndGlyphs">0.3</text>
<text x="421.28" y="875.2" font-family='"Liberation Sans", sans-serif' font-size="18.0" font-weight="normal" textLength="21.39" lengthAdjust="spacingAndGlyphs">0.4</text>
<text x="496.57" y="875.2" font-family='"Liberation Sans", sans-serif' font-size="18.0" font-weight="normal" textLength="21.39" lengthAdjust="spacingAndGlyphs">0.5</text>
</g>
<text transform="translate(54.20,826.56) rotate(-90)" x="0" y="0" font-family='"Liberation Sans", sans-serif' font-size="22.3" font-weight="bold" textLength="243.46" lengthAdjust="spacingAndGlyphs">Probability for NSO</text>
<text x="44.70" y="909.2" font-family='"Liberation Sans", sans-serif' font-size="21.8" font-weight="bold" textLength="23.09" lengthAdjust="spacingAndGlyphs">(b)</text>
<text x="288.37" y="908.7" font-family='"Liberation Serif", serif' font-size="26.6" font-weight="normal" textLength="11.76" lengthAdjust="spacingAndGlyphs">&#955;</text>
<text x="300.24" y="916.5" font-family='"Liberation Sans", sans-serif' font-size="15.2" font-weight="bold" textLength="7.29" lengthAdjust="spacingAndGlyphs">s</text>
<g id="b-legend">
<rect x="404.0" y="550.0" width="39.8" height="12.8" fill="#000"/>
<rect x="404.0" y="571.0" width="39.8" height="12.8" fill="#ff0000"/>
<rect x="404.0" y="591.9" width="39.8" height="12.8" fill="#00ff00"/>
<text x="451.12" y="563.0" font-family='"Liberation Serif", serif' font-size="18.2" font-weight="normal" textLength="33.97" lengthAdjust="spacingAndGlyphs">&#955;=0.1</text>
<text x="451.30" y="583.8" font-family='"Liberation Serif", serif' font-size="18.2" font-weight="normal" textLength="33.97" lengthAdjust="spacingAndGlyphs">&#955;=0.2</text>
<text x="451.30" y="603.6" font-family='"Liberation Serif", serif' font-size="18.2" font-weight="normal" textLength="33.97" lengthAdjust="spacingAndGlyphs">&#955;=0.3</text>
</g>
</svg>
</body></html>
